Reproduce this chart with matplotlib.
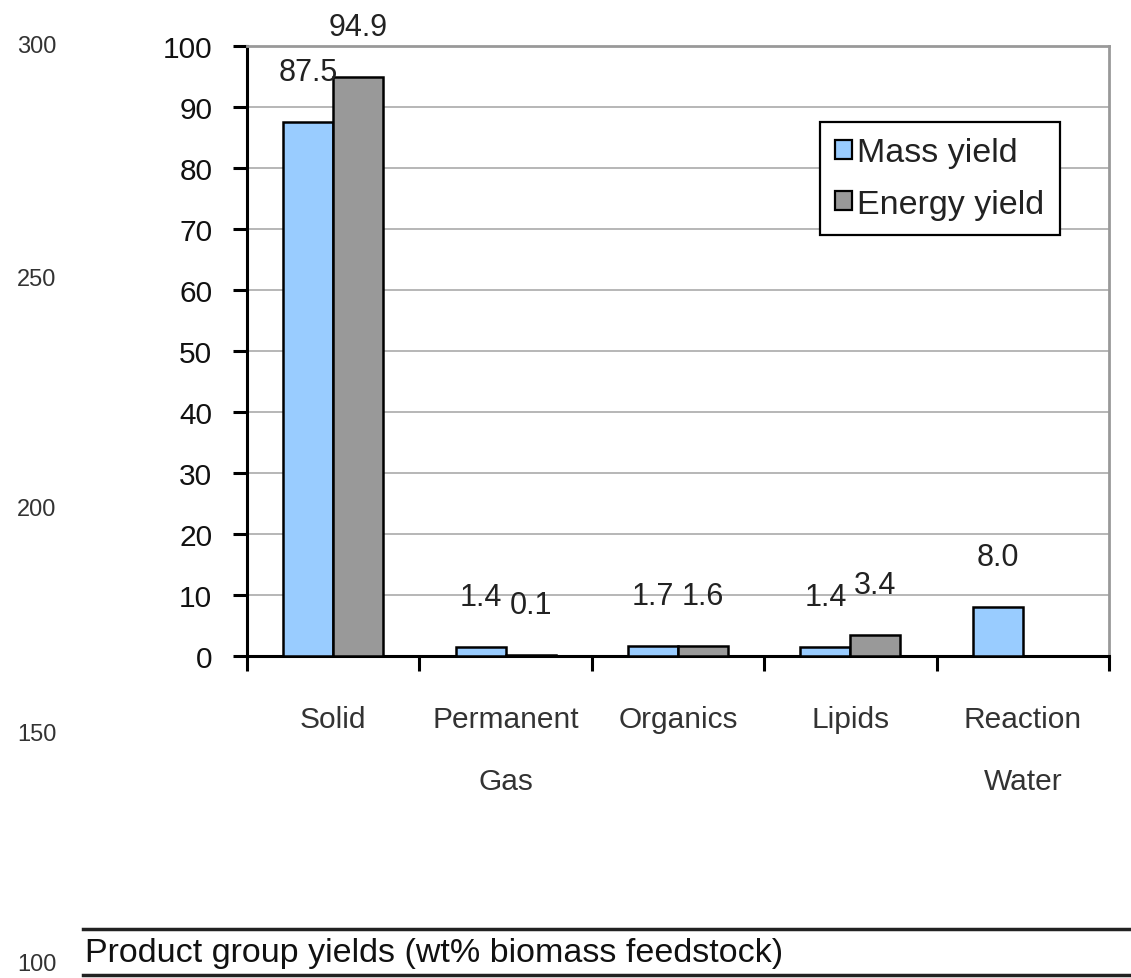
import matplotlib
matplotlib.use("Agg")
import matplotlib.pyplot as plt
from matplotlib.lines import Line2D
from matplotlib.patches import Patch
import numpy as np

# Product group yields
categories = ["Solid", "Permanent\nGas", "Organics", "Lipids", "Reaction\nWater"]
mass_yield = [87.5, 1.4, 1.7, 1.4, 8.0]
energy_yield = [94.9, 0.1, 1.6, 3.4, None]
series_names = ["Mass yield", "Energy yield"]
y_ticks = [0, 10, 20, 30, 40, 50, 60, 70, 80, 90, 100]
side_scale = [300, 250, 200, 150, 100]
caption = "Product group yields (wt% biomass feedstock)"

FONT = ["Liberation Sans", "DejaVu Sans"]

W, H = 1131, 979
fig = plt.figure(figsize=(W / 100, H / 100), dpi=100)
fig.patch.set_facecolor("white")

left, right, top, bottom = 247, 1109, 47, 657
ax = fig.add_axes([left / W, 1 - bottom / H, (right - left) / W, (bottom - top) / H])

x = np.arange(len(categories))
bw = 0.29
blue = "#99CCFF"
grey = "#999999"

mass_vals = [v if v is not None else 0 for v in mass_yield]
energy_vals = [v if v is not None else 0 for v in energy_yield]

b1 = ax.bar(x - bw / 2, mass_vals, bw, color=blue, edgecolor="black", linewidth=1.8, zorder=3)
b2 = ax.bar(x + bw / 2, energy_vals, bw, color=grey, edgecolor="black", linewidth=1.8, zorder=3)
for i, v in enumerate(energy_yield):
    if v is None:
        b2[i].set_visible(False)

# value labels above each bar
for bars, vals in ((b1, mass_yield), (b2, energy_yield)):
    for rect, v in zip(bars, vals):
        if v is None:
            continue
        ax.annotate(f"{v:.1f}", (rect.get_x() + rect.get_width() / 2, v),
                    xytext=(0, 50), textcoords="offset pixels",
                    ha="center", va="center", fontsize=22, family=FONT,
                    color="#222222", annotation_clip=False, zorder=5)

ax.set_xlim(-0.5, len(categories) - 0.5)
ax.set_ylim(0, 100)
ax.set_yticks(y_ticks)
ax.set_yticklabels([str(t) for t in y_ticks], family=FONT, fontsize=21.5, color="#111111")
ax.yaxis.grid(True, color="#aaaaaa", linewidth=1.2, zorder=0)
ax.set_axisbelow(True)

# category labels centred, tick marks on the category boundaries
ax.set_xticks(x)
ax.set_xticklabels(categories, family=FONT, fontsize=21.5, color="#333333")
for lab in ax.get_xticklabels():
    lab.set_linespacing(2.55)
ax.set_xticks(np.arange(-0.5, len(categories), 1.0), minor=True)
ax.tick_params(axis="x", which="major", length=0, pad=35)
ax.tick_params(axis="x", which="minor", length=11, width=2.2, direction="out", color="black")
ax.tick_params(axis="y", which="major", length=10, width=2.2, direction="out", pad=15, color="black")

for side in ("left", "bottom"):
    ax.spines[side].set_color("black")
    ax.spines[side].set_linewidth(2.2)
for side in ("top", "right"):
    ax.spines[side].set_color("#999999")
    ax.spines[side].set_linewidth(2.0)

handles = [Patch(facecolor=blue, edgecolor="black", linewidth=1.6),
           Patch(facecolor=grey, edgecolor="black", linewidth=1.6)]
leg = ax.legend(handles, series_names, loc="upper left",
                bbox_to_anchor=((820 - left) / (right - left), 1 - (123 - top) / (bottom - top)),
                prop={"family": FONT, "size": 24.5}, frameon=True, fancybox=False,
                framealpha=1, edgecolor="black", handlelength=0.5, handleheight=0.5,
                handletextpad=0.15, labelspacing=0.6, borderpad=0.45, borderaxespad=0)
leg.get_frame().set_linewidth(1.6)
for t in leg.get_texts():
    t.set_color("#222222")

# scale numbers along the left margin
side_y = [47, 280, 510, 735, 965]
for val, yp in zip(side_scale, side_y):
    fig.text(37 / W, 1 - yp / H, str(val), ha="center", va="center",
             family=FONT, fontsize=17, color="#333333")

# caption between two rules
fig.add_artist(Line2D([83 / W, 1.0], [1 - 930 / H] * 2, color="#222222", linewidth=2.5))
fig.add_artist(Line2D([83 / W, 1.0], [1 - 976 / H] * 2, color="#222222", linewidth=2.5))
fig.text(85 / W, 1 - 954 / H, caption, ha="left", va="center",
         family=FONT, fontsize=24.5, color="#111111")

fig.savefig("out.png", dpi=100, facecolor="white")
